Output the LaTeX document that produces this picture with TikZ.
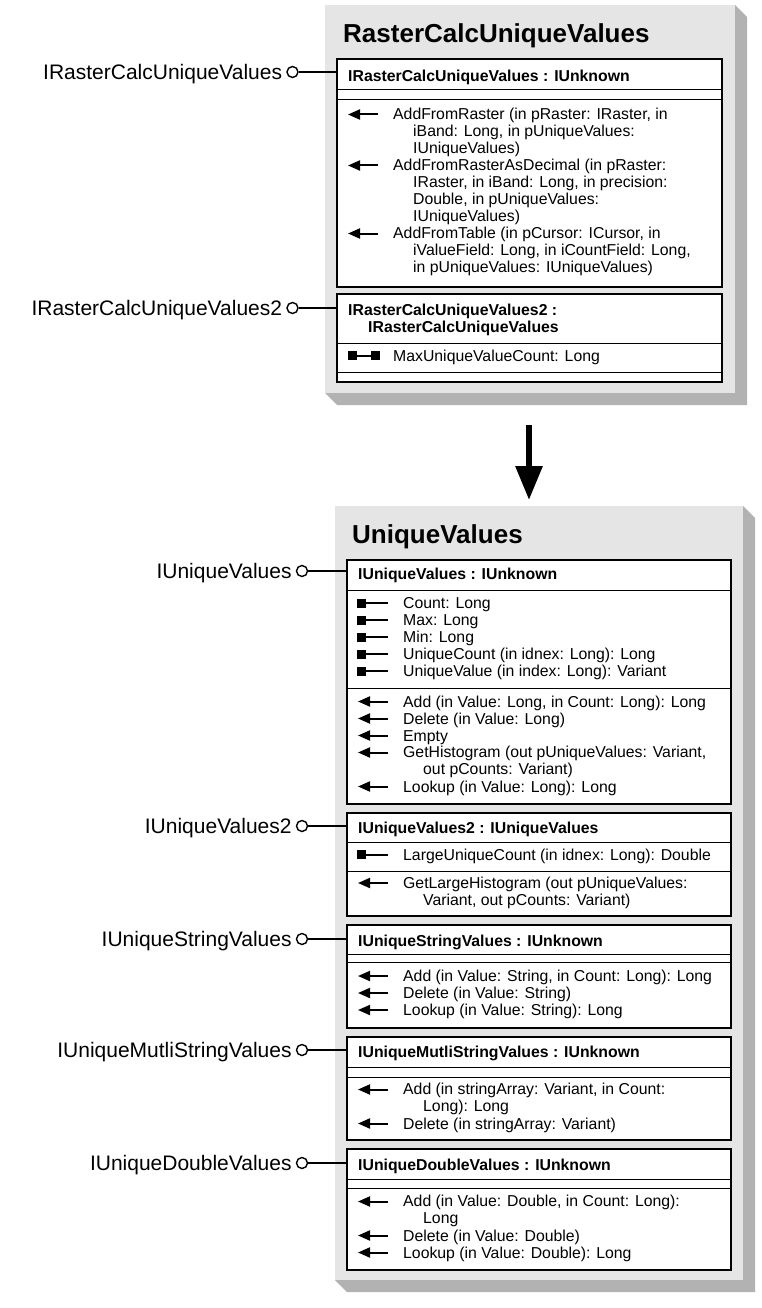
\documentclass[tikz,border=0pt]{standalone}
\usepackage{fontspec}
\setmainfont{Liberation Sans}
\usetikzlibrary{arrows.meta,positioning}
\tikzset
{
    classbox/.style   = {rectangle, fill=black!10, inner sep=0pt, outer sep=0pt, anchor=north west},
    classshade/.style = {fill=black!30},
    classtitle/.style = {font=\fontsize{26}{30}\selectfont\bfseries, anchor=base west, inner sep=0pt},
    ifacebox/.style   = {rectangle, draw=black, line width=1.8pt, fill=white, inner sep=0pt, outer sep=0pt, anchor=north west, minimum width=384pt},
    ifacehead/.style  = {font=\fontsize{15.8}{17}\selectfont\bfseries, align=left, anchor=north west, inner sep=0pt, execute at begin node=\strut},
    membertext/.style = {font=\fontsize{15.8}{17}\selectfont, align=left, anchor=north west, inner sep=0pt, execute at begin node=\strut},
    divider/.style    = {line width=0.8pt},
    methodnode/.style = {membertext, append after command={([xshift=-15pt,yshift=-6.5pt]\tikzlastnode.north west) edge[line width=2pt, -{Triangle[length=12pt,width=10pt]}] ([xshift=-45pt,yshift=-6.5pt]\tikzlastnode.north west)}},
    propnode/.style   = {membertext, append after command={([xshift=-15pt,yshift=-6.5pt]\tikzlastnode.north west) edge[line width=2pt, -{Square[length=9pt,width=9pt]}] ([xshift=-46pt,yshift=-6.5pt]\tikzlastnode.north west)}},
    rwpropnode/.style = {membertext, append after command={([xshift=-13pt,yshift=-6.5pt]\tikzlastnode.north west) edge[line width=2pt, {Square[length=9pt,width=9pt]}-{Square[length=9pt,width=9pt]}] ([xshift=-45pt,yshift=-6.5pt]\tikzlastnode.north west)}},
    pinnode/.style    = {circle, draw=black, line width=1.4pt, fill=white, inner sep=0pt, minimum size=11pt},
    pinline/.style    = {line width=1.4pt},
    pinlabel/.style   = {font=\fontsize{21}{24}\selectfont, inner sep=0pt, text height=15pt, text depth=0pt},
    flowarrow/.style  = {line width=6pt, -{Triangle[length=34pt,width=26pt]}}
}
\begin{document}
\begin{tikzpicture}[x=1pt, y=-1pt]
	\useasboundingbox (0,0) rectangle (762,1308);

	% RasterCalcUniqueValues
	\node[classbox, minimum width=410pt, minimum height=388pt] (rcuv) at (325,5) {};
	\fill[classshade] (rcuv.north east) -- ++(12,12) -- ([shift={(12pt,-12pt)}]rcuv.south east) -- ([shift={(12pt,-12pt)}]rcuv.south west) -- (rcuv.south west) -- (rcuv.south east) -- cycle;
	\node[classtitle] (rcuvtitle) at (343,43) {RasterCalcUniqueValues};

	\node[ifacebox, minimum width=385pt, minimum height=228pt] (ircuv) at (337,59) {};
	\draw[divider] (337,89) -- (722,89);
	\draw[divider] (337,99) -- (722,99);
	\node[ifacehead] (ircuvhead) at (348,69) {IRasterCalcUniqueValues : IUnknown};
	\node[methodnode] (addraster) at (393,108) {AddFromRaster (in pRaster: IRaster, in\\\hspace*{20pt}iBand: Long, in pUniqueValues:\\\hspace*{20pt}IUniqueValues)};
	\node[methodnode] (adddecimal) at (393,159) {AddFromRasterAsDecimal (in pRaster:\\\hspace*{20pt}IRaster, in iBand: Long, in precision:\\\hspace*{20pt}Double, in pUniqueValues:\\\hspace*{20pt}IUniqueValues)};
	\node[methodnode] (addtable) at (393,227) {AddFromTable (in pCursor: ICursor, in\\\hspace*{20pt}iValueField: Long, in iCountField: Long,\\\hspace*{20pt}in pUniqueValues: IUniqueValues)};

	\node[ifacebox, minimum width=385pt, minimum height=88pt] (ircuv2) at (337,294) {};
	\draw[divider] (337,343) -- (722,343);
	\draw[divider] (337,372) -- (722,372);
	\node[ifacehead] (ircuv2head) at (348,303.6) {IRasterCalcUniqueValues2 :\\\hspace*{20pt}IRasterCalcUniqueValues};
	\node[rwpropnode] (maxcount) at (393,349) {MaxUniqueValueCount: Long};

	\node[pinnode] (ircuvpin) at (292.5,72) {};
	\node[pinlabel, left=4pt of ircuvpin] (ircuvlabel) {IRasterCalcUniqueValues};
	\draw[pinline] (ircuvpin) -- (ircuvpin -| ircuv.west);
	\node[pinnode] (ircuv2pin) at (292.5,308) {};
	\node[pinlabel, left=4pt of ircuv2pin] (ircuv2label) {IRasterCalcUniqueValues2};
	\draw[pinline] (ircuv2pin) -- (ircuv2pin -| ircuv2.west);

	% arrow between the classes
	\coordinate (flowstart) at (529,425);
	\coordinate (flowend) at (529,500);
	\draw[flowarrow] (flowstart) -- (flowend);

	% UniqueValues
	\node[classbox, minimum width=408pt, minimum height=774pt] (uv) at (335,506) {};
	\fill[classshade] (uv.north east) -- ++(12,12) -- ([shift={(12pt,-12pt)}]uv.south east) -- ([shift={(12pt,-12pt)}]uv.south west) -- (uv.south west) -- (uv.south east) -- cycle;
	\node[classtitle] (uvtitle) at (352,543) {UniqueValues};

	\node[ifacebox, minimum height=244pt] (iuv) at (347,560) {};
	\draw[divider] (347,590) -- (731,590);
	\draw[divider] (347,688) -- (731,688);
	\node[ifacehead] (iuvhead) at (358,567.6) {IUniqueValues : IUnknown};
	\node[propnode] (count) at (403,596.5) {Count: Long};
	\node[propnode] (max) at (403,613.5) {Max: Long};
	\node[propnode] (min) at (403,630.5) {Min: Long};
	\node[propnode] (uniquecount) at (403,647.5) {UniqueCount (in idnex: Long): Long};
	\node[propnode] (uniquevalue) at (403,664.5) {UniqueValue (in index: Long): Variant};
	\node[methodnode] (add) at (403,695) {Add (in Value: Long, in Count: Long): Long};
	\node[methodnode] (delete) at (403,712) {Delete (in Value: Long)};
	\node[methodnode] (empty) at (403,729) {Empty};
	\node[methodnode] (histogram) at (403,746) {GetHistogram (out pUniqueValues: Variant,\\\hspace*{20pt}out pCounts: Variant)};
	\node[methodnode] (lookup) at (403,780) {Lookup (in Value: Long): Long};

	\node[ifacebox, minimum height=103pt] (iuv2) at (347,813) {};
	\draw[divider] (347,842) -- (731,842);
	\draw[divider] (347,871) -- (731,871);
	\node[ifacehead] (iuv2head) at (358,821.4) {IUniqueValues2 : IUniqueValues};
	\node[propnode] (largecount) at (403,848) {LargeUniqueCount (in idnex: Long): Double};
	\node[methodnode] (largehistogram) at (403,876.5) {GetLargeHistogram (out pUniqueValues:\\\hspace*{20pt}Variant, out pCounts: Variant)};

	\node[ifacebox, minimum height=103pt] (iusv) at (347,925) {};
	\draw[divider] (347,954) -- (731,954);
	\draw[divider] (347,962) -- (731,962);
	\node[ifacehead] (iusvhead) at (358,934) {IUniqueStringValues : IUnknown};
	\node[methodnode] (stradd) at (403,969.5) {Add (in Value: String, in Count: Long): Long};
	\node[methodnode] (strdelete) at (403,986.5) {Delete (in Value: String)};
	\node[methodnode] (strlookup) at (403,1003.5) {Lookup (in Value: String): Long};

	\node[ifacebox, minimum height=103pt] (iumsv) at (347,1037) {};
	\draw[divider] (347,1067) -- (731,1067);
	\draw[divider] (347,1077) -- (731,1077);
	\node[ifacehead] (iumsvhead) at (358,1045.6) {IUniqueMutliStringValues : IUnknown};
	\node[methodnode] (arradd) at (403,1083) {Add (in stringArray: Variant, in Count:\\\hspace*{20pt}Long): Long};
	\node[methodnode] (arrdelete) at (403,1117) {Delete (in stringArray: Variant)};

	\node[ifacebox, minimum height=121pt] (iudv) at (347,1149) {};
	\draw[divider] (347,1179) -- (731,1179);
	\draw[divider] (347,1188) -- (731,1188);
	\node[ifacehead] (iudvhead) at (358,1158.3) {IUniqueDoubleValues : IUnknown};
	\node[methodnode] (dbladd) at (403,1195) {Add (in Value: Double, in Count: Long):\\\hspace*{20pt}Long};
	\node[methodnode] (dbldelete) at (403,1229) {Delete (in Value: Double)};
	\node[methodnode] (dbllookup) at (403,1246) {Lookup (in Value: Double): Long};

	\node[pinnode] (iuvpin) at (302,571) {};
	\node[pinlabel, left=4pt of iuvpin] (iuvlabel) {IUniqueValues};
	\draw[pinline] (iuvpin) -- (iuvpin -| iuv.west);
	\node[pinnode] (iuv2pin) at (302,826) {};
	\node[pinlabel, left=4pt of iuv2pin] (iuv2label) {IUniqueValues2};
	\draw[pinline] (iuv2pin) -- (iuv2pin -| iuv2.west);
	\node[pinnode] (iusvpin) at (302,939) {};
	\node[pinlabel, left=4pt of iusvpin] (iusvlabel) {IUniqueStringValues};
	\draw[pinline] (iusvpin) -- (iusvpin -| iusv.west);
	\node[pinnode] (iumsvpin) at (302,1050) {};
	\node[pinlabel, left=4pt of iumsvpin] (iumsvlabel) {IUniqueMutliStringValues};
	\draw[pinline] (iumsvpin) -- (iumsvpin -| iumsv.west);
	\node[pinnode] (iudvpin) at (302,1163) {};
	\node[pinlabel, left=4pt of iudvpin] (iudvlabel) {IUniqueDoubleValues};
	\draw[pinline] (iudvpin) -- (iudvpin -| iudv.west);
\end{tikzpicture}
\end{document}
